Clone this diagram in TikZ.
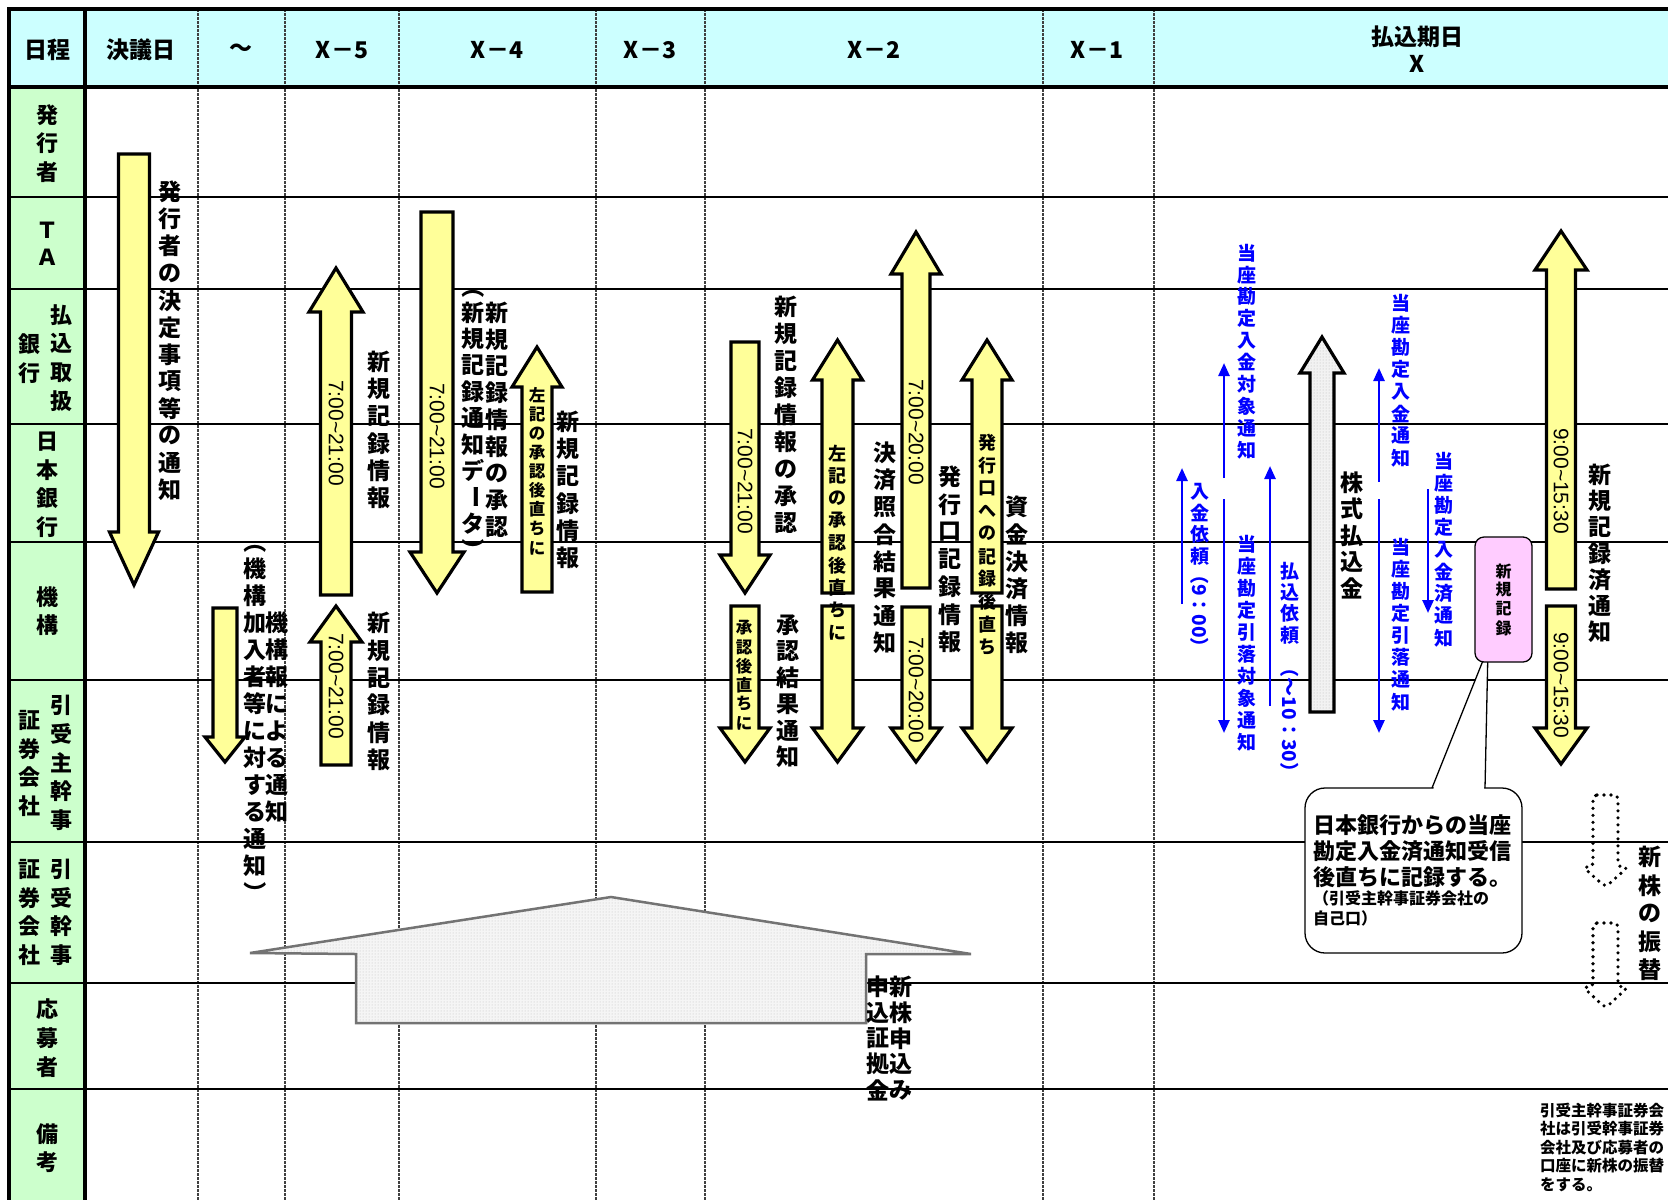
\documentclass[tikz,border=0pt]{standalone}
\usepackage{fontspec}
\setmainfont{Noto Sans CJK JP}
\newfontfamily\tmfont{Liberation Sans}
\usepackage{graphicx}
\usetikzlibrary{arrows.meta,patterns}
\definecolor{hdr}{HTML}{CCFFFF}
\definecolor{lft}{HTML}{CCFFCC}
\definecolor{yel}{HTML}{FFFF99}
\definecolor{pnk}{HTML}{FFCCFF}
\definecolor{bl}{HTML}{0000FF}
\makeatletter
\newdimen\vtpitch
\newcommand\vt[2]{\vtpitch=#1pt\relax\vbox{\offinterlineskip\vt@loop#2\relax}}
\def\vt@loop#1{\ifx\relax#1\else\hbox to 1.2em{\hss\vbox to\vtpitch{\vss\hbox{#1}\vss}\hss}\expandafter\vt@loop\fi}
\makeatother
\newcommand\vparL{\rotatebox[origin=c]{-90}{（}}
\newcommand\vparR{\rotatebox[origin=c]{-90}{）}}
\newcommand\vchoon{\rotatebox[origin=c]{-90}{ー}}
% up arrow: cx, tip, headbase, bottom, shaft half, head half
\newcommand\uarr[7][yarrow]{\draw[#1] (#2-#6,#5) -- (#2-#6,#4) -- (#2-#7,#4) -- (#2,#3) -- (#2+#7,#4) -- (#2+#6,#4) -- (#2+#6,#5) -- cycle;}
% down arrow: cx, top, headbase, tip, shaft half, head half
\newcommand\darr[7][yarrow]{\draw[#1] (#2-#6,#3) -- (#2+#6,#3) -- (#2+#6,#4) -- (#2+#7,#4) -- (#2,#5) -- (#2-#7,#4) -- (#2-#6,#4) -- cycle;}
\tikzset{
 yarrow/.style={draw=black, line width=3.2, fill=yel, line join=miter},
 garrow/.style={preaction={fill=gray!10}, pattern=dots, pattern color=gray!55, draw=black, line width=3.2},
 dotarrow/.style={draw=black, line width=3.6, dash pattern=on 0pt off 7pt, line cap=round, rounded corners=4},
 bigshape/.style={preaction={fill=gray!8}, pattern=dots, pattern color=gray!50, draw=gray!90!black, line width=2.5},
 barrow/.style={draw=bl, line width=2.5, -{Triangle[length=13pt,width=11pt]}},
 rowline/.style={line width=1.8, black},
 dline/.style={line width=1.1, black!75, dash pattern=on 2.5pt off 1.5pt},
 frame/.style={line width=4, black},
 lbl/.style={inner sep=0, font=\bfseries\fontsize{23}{23}\selectfont},
 rlbl/.style={inner sep=0, font=\bfseries\fontsize{22}{22}\selectfont},
 hlbl/.style={inner sep=0, font=\bfseries\fontsize{23}{23}\selectfont},
 blbl/.style={inner sep=0, text=bl, font=\bfseries\fontsize{19}{19}\selectfont},
 slbl/.style={inner sep=0, font=\bfseries\fontsize{#1}{#1}\selectfont},
 tlbl/.style={inner sep=0, rotate=-90, font=\tmfont\fontsize{21}{21}\selectfont},
 pinkbox/.style={draw=black, line width=1.3, fill=pnk, rounded corners=9, inner sep=0, minimum width=57, minimum height=125, font=\bfseries\fontsize{16}{16}\selectfont},
}
\begin{document}
\begin{tikzpicture}[x=1pt,y=-1pt]
\useasboundingbox (0,0) rectangle (1668,1200);
\fill[white] (0,0) rectangle (1668,1200);
% grid
\fill[hdr] (9,9) rectangle (1668,87);
\fill[lft] (9,87) rectangle (85,1200);
\foreach \x in {198,285,399,596,705,1043,1154} \draw[dline] (\x,9) -- (\x,1200);
\foreach \y in {197,289,424,542,680,842,983,1089} \draw[rowline] (9,\y) -- (1668,\y);
\draw[frame] (9,9) -- (1668,9);
\draw[frame] (9,87) -- (1668,87);
\draw[frame] (9,7) -- (9,1200);
\draw[frame] (85,9) -- (85,1200);
% header
\node[hlbl] (hd0) at (47,50) {日程};
\node[hlbl] (hd1) at (141,50) {決議日};
\node[hlbl] (hd2) at (241,50) {～};
\node[hlbl] (hd3) at (342,50) {X－5};
\node[hlbl] (hd4) at (497,50) {X－4};
\node[hlbl] (hd5) at (650,50) {X－3};
\node[hlbl] (hd6) at (874,50) {X－2};
\node[hlbl] (hd7) at (1097,50) {X－1};
\node[hlbl] (hd8) at (1417,37) {払込期日};
\node[hlbl] (hd9) at (1417,64) {X};
% row labels
\node[rlbl] (r1) at (47,143.5) {\vt{28.5}{発行者}};
\node[rlbl] (r2) at (47,244) {\vt{27}{ＴＡ}};
\node[rlbl] (r3a) at (61,358) {\vt{28.7}{払込取扱}};
\node[rlbl] (r3b) at (29,358.5) {\vt{28.7}{銀行}};
\node[rlbl] (r4) at (47,484) {\vt{28.5}{日本銀行}};
\node[rlbl] (r5) at (47,611) {\vt{28}{機構}};
\node[rlbl] (r6a) at (61,762.5) {\vt{28.7}{引受主幹事}};
\node[rlbl] (r6b) at (29,763) {\vt{28.7}{証券会社}};
\node[rlbl] (r7a) at (61,912) {\vt{28.7}{引受幹事}};
\node[rlbl] (r7b) at (29,912) {\vt{28.7}{証券会社}};
\node[rlbl] (r8) at (47,1038) {\vt{29}{応募者}};
\node[rlbl] (r9) at (47,1148) {\vt{28.5}{備考}};
% big gray shape
\draw[bigshape] (250,953) -- (611,897) -- (971,954) -- (866,954) -- (866,1023) -- (356,1023) -- (356,954) -- cycle;
% yellow arrows
\darr{134}{154}{532}{585}{15.5}{24.5}
\darr{225}{608}{737}{762}{12}{20}
\uarr{336}{268}{312}{595}{15.5}{27}
\uarr{336}{606}{642}{765}{15}{26}
\darr{437}{212}{552}{593}{16}{27}
\uarr{537}{347}{387}{592}{15}{25}
\darr{745}{342}{555}{593}{14}{25}
\darr{745}{606}{728}{762}{14}{25}
\uarr{837.5}{340}{380}{593}{15.5}{25}
\darr{837.5}{606}{728}{762}{15.5}{25}
\uarr{916}{232}{274}{588}{14}{25}
\darr{916}{607}{728}{762}{14}{25}
\uarr{987}{340}{380}{593}{15}{25}
\darr{987}{606}{728}{762}{15}{25}
\uarr[garrow]{1322}{337}{373}{712}{12}{22}
\uarr{1561}{231}{270}{589}{14.5}{26}
\darr{1561}{606}{728}{764}{14.5}{26}
\darr[dotarrow]{1605.5}{795}{867}{887}{12.5}{22.5}
\darr[dotarrow]{1605.5}{923}{987}{1008}{12.5}{22.5}
% texts in arrows
\node[tlbl] (t3) at (336,433) {7:00\textasciitilde21:00};
\node[tlbl] (t4) at (336,686) {7:00\textasciitilde21:00};
\node[tlbl] (t5) at (437,436) {7:00\textasciitilde21:00};
\node[slbl=16.5] (t6) at (537,471.5) {\vt{19.1}{左記の承認後直ちに}};
\node[tlbl] (t7) at (745,481) {7:00\textasciitilde21:00};
\node[slbl=16.5] (t8) at (744,675.5) {\vt{19}{承認後直ちに}};
\node[slbl=18] (t9) at (837.5,543) {\vt{22.5}{左記の承認後直ちに}};
\node[tlbl] (t10a) at (916,432) {7:00\textasciitilde20:00};
\node[tlbl] (t10b) at (916,690) {7:00\textasciitilde20:00};
\node[slbl=18] (t11) at (987,545) {\vt{22.7}{発行口への記録後直ち}};
\node[tlbl] (t12a) at (1561,481) {9:00\textasciitilde15:30};
\node[tlbl] (t12b) at (1561,685) {9:00\textasciitilde15:30};
% labels
\node[lbl] (l1) at (170,341) {\vt{27.1}{発行者の決定事項等の通知}};
\node[lbl] (l2a) at (255,717.5) {\vt{27}{\vparL 機構加入者等に対する通知\vparR}};
\node[lbl] (l2b) at (277,717.5) {\vt{27}{機構報による通知}};
\node[lbl] (l3) at (379,430) {\vt{27.2}{新規記録情報}};
\node[lbl] (l4) at (379,691.5) {\vt{27.4}{新規記録情報}};
\node[lbl] (l5a) at (473,418) {\vt{26.3}{\vparL 新規記録通知デ\vchoon タ\vparR}};
\node[lbl] (l5b) at (497,420) {\vt{26.75}{新規記録情報の承認}};
\node[lbl] (l6) at (568,490) {\vt{27.2}{新規記録情報}};
\node[lbl] (l7) at (786,415) {\vt{27}{新規記録情報の承認}};
\node[lbl] (l8) at (788,691) {\vt{26.4}{承認結果通知}};
\node[lbl] (l10a) at (885,548) {\vt{27.1}{決済照合結果通知}};
\node[lbl] (l10b) at (950,559.5) {\vt{27.5}{発行口記録情報}};
\node[lbl] (l11) at (1017,575) {\vt{27.2}{資金決済情報}};
\node[lbl] (l14a) at (901,1038.5) {\vt{25.75}{新株申込み}};
\node[lbl] (l14b) at (878,1038.5) {\vt{25.75}{申込証拠金}};
\node[lbl] (lk) at (1352,535.5) {\vt{26.3}{株式払込金}};
\node[lbl] (l12) at (1600,553.5) {\vt{26.2}{新規記録済通知}};
\node[lbl] (l13) at (1650,913.5) {\vt{28.25}{新株の振替}};
% blue arrows
\coordinate (ba1) at (1182,604); \coordinate (ba2) at (1182,468);
\coordinate (bb1) at (1224,478); \coordinate (bb2) at (1224,363);
\coordinate (bb3) at (1224,499); \coordinate (bb4) at (1224,733);
\coordinate (bc1) at (1270,706); \coordinate (bc2) at (1270,466);
\coordinate (be1) at (1379,482); \coordinate (be2) at (1379,368);
\coordinate (be3) at (1379,499); \coordinate (be4) at (1379,733);
\coordinate (bf1) at (1428,489); \coordinate (bf2) at (1428,613);
\draw[barrow] (ba1) -- (ba2);
\draw[barrow] (bb1) -- (bb2);
\draw[barrow] (bb3) -- (bb4);
\draw[barrow] (bc1) -- (bc2);
\draw[barrow] (be1) -- (be2);
\draw[barrow] (be3) -- (be4);
\draw[barrow] (bf1) -- (bf2);
\node[blbl] (lba) at (1200,524) {\vt{21.5}{入金依頼}};
\node[blbl, rotate=-90] (lba2) at (1200,611) {（9：00）};
\node[blbl] (lbb1) at (1247,351.5) {\vt{21.9}{当座勘定入金対象通知}};
\node[blbl] (lbb2) at (1247,643) {\vt{22}{当座勘定引落対象通知}};
\node[blbl] (lbc) at (1290,603) {\vt{21.3}{払込依頼}};
\node[blbl, rotate=-90] (lbc2) at (1290,720) {（～10：30）};
\node[blbl] (lbe1) at (1401,380.5) {\vt{22.1}{当座勘定入金通知}};
\node[blbl] (lbe2) at (1401,624.5) {\vt{22.1}{当座勘定引落通知}};
\node[blbl] (lbf) at (1444,549.5) {\vt{22.1}{当座勘定入金済通知}};
% callout
\draw[fill=white, line width=1.3, rounded corners=20] (1305,788) rectangle (1522,953);
\fill[white] (1433,790) -- (1488,648) -- (1484,790) -- cycle;
\draw[line width=1.3] (1432,788) -- (1488,648) -- (1485,788);
\node[pinkbox] (pk) at (1503.5,599.5) {\vt{19}{新規記録}};
\node[anchor=west, inner sep=0, align=left, font=\bfseries\fontsize{22}{26}\selectfont] (co1) at (1313,851) {日本銀行からの当座\\勘定入金済通知受信\\後直ちに記録する。};
\node[anchor=west, inner sep=0, align=left, font=\bfseries\fontsize{16}{20}\selectfont] (co2) at (1313,908) {（引受主幹事証券会社の\\自己口）};
% note
\node[anchor=west, inner sep=0, align=left, font=\bfseries\fontsize{15.5}{18.5}\selectfont] (nt) at (1540,1147) {引受主幹事証券会\\社は引受幹事証券\\会社及び応募者の\\口座に新株の振替\\をする。};
\end{tikzpicture}
\end{document}
